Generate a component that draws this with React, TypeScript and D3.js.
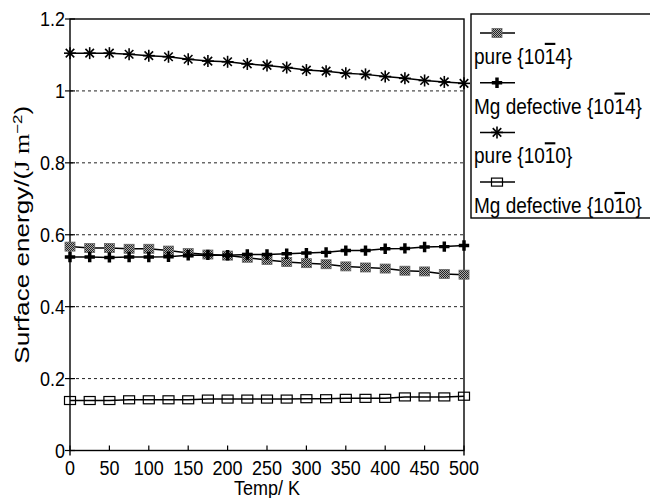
import React from "react";
import * as d3 from "d3";

const temps = [0, 25, 50, 75, 100, 125, 150, 175, 200, 225, 250, 275, 300, 325, 350, 375, 400, 425, 450, 475, 500];
const pure1014 = [0.567, 0.563, 0.563, 0.561, 0.561, 0.556, 0.549, 0.545, 0.542, 0.536, 0.530, 0.524, 0.521, 0.518, 0.512, 0.509, 0.506, 0.500, 0.498, 0.491, 0.489];
const mg1014 = [0.538, 0.538, 0.537, 0.538, 0.538, 0.539, 0.543, 0.544, 0.543, 0.545, 0.545, 0.547, 0.549, 0.551, 0.556, 0.556, 0.561, 0.562, 0.566, 0.567, 0.570];
const pure1010 = [1.105, 1.105, 1.105, 1.102, 1.098, 1.095, 1.088, 1.083, 1.081, 1.075, 1.071, 1.065, 1.058, 1.055, 1.049, 1.046, 1.040, 1.035, 1.029, 1.025, 1.021];
const mg1010 = [0.139, 0.139, 0.139, 0.141, 0.141, 0.141, 0.141, 0.143, 0.143, 0.143, 0.143, 0.143, 0.144, 0.144, 0.145, 0.145, 0.145, 0.149, 0.149, 0.149, 0.151];

const xTicks = [0, 50, 100, 150, 200, 250, 300, 350, 400, 450, 500];
const yTicks = [0, 0.2, 0.4, 0.6, 0.8, 1, 1.2];
const gridValues = [0.2, 0.4, 0.6, 0.8, 1];

// legend labels: prefix, barred digit, suffix
const seriesInfo = [
  { key: "pure1014", values: pure1014, pre: "pure {10", bar: "1", post: "4}" },
  { key: "mg1014", values: mg1014, pre: "Mg defective {10", bar: "1", post: "4}" },
  { key: "pure1010", values: pure1010, pre: "pure {10", bar: "1", post: "0}" },
  { key: "mg1010", values: mg1010, pre: "Mg defective {10", bar: "1", post: "0}" },
];

const font = "'Liberation Sans', Arial, sans-serif";
// scanned lettering is a bit taller than it is wide
const stretch = (tx: number, ty: number) => `translate(${tx},${ty}) scale(1,1.13)`;

const Marker = ({ kind, x, y }: { kind: string; x: number; y: number }) => {
  if (kind === "pure1014") {
    return <rect x={x - 5} y={y - 4.5} width={10} height={9} fill="url(#hatch)" stroke="#666" strokeWidth={0.8} />;
  }
  if (kind === "mg1014") {
    return <path d={d3.symbol(d3.symbolCross, 60)() as string} transform={`translate(${x},${y})`} fill="#000" />;
  }
  if (kind === "pure1010") {
    const r = 6;
    const a = r * Math.cos(Math.PI / 4);
    return (
      <g stroke="#000" strokeWidth={1.6}>
        <line x1={x} y1={y - r} x2={x} y2={y + r} />
        <line x1={x - a} y1={y - a} x2={x + a} y2={y + a} />
        <line x1={x - a} y1={y + a} x2={x + a} y2={y - a} />
        <line x1={x - r} y1={y} x2={x + r} y2={y} />
      </g>
    );
  }
  return <rect x={x - 5.5} y={y - 4} width={11} height={8} fill="none" stroke="#000" strokeWidth={1.2} />;
};

const App = () => {
  const width = 650;
  const height = 498;
  const x = d3.scaleLinear().domain([0, 500]).range([70, 464]);
  const y = d3.scaleLinear().domain([0, 1.2]).range([450.5, 19]);

  const line = d3
    .line<number>()
    .x((_, i) => x(temps[i]))
    .y((d) => y(d));

  return (
    <svg width={width} height={height} style={{ position: "absolute", left: 0, top: 0, background: "#fff" }} fontFamily={font}>
      <defs>
        <pattern id="hatch" width={2} height={2} patternUnits="userSpaceOnUse">
          <rect width={2} height={2} fill="#aaa" />
          <rect width={1} height={1} fill="#222" />
          <rect x={1} y={1} width={1} height={1} fill="#222" />
        </pattern>
      </defs>

      {/* dashed grid */}
      {gridValues.map((v) => (
        <line key={v} x1={x(0)} x2={x(500)} y1={y(v)} y2={y(v)} stroke="#222" strokeWidth={1} strokeDasharray="3,3" />
      ))}

      {/* frame */}
      <rect x={x(0)} y={y(1.2)} width={x(500) - x(0)} height={y(0) - y(1.2)} fill="none" stroke="#000" strokeWidth={1.4} />
      <line x1={x(0)} x2={x(0)} y1={y(0)} y2={y(0) + 5} stroke="#000" strokeWidth={1.4} />
      <line x1={x(500)} x2={x(500)} y1={y(0)} y2={y(0) + 5} stroke="#000" strokeWidth={1.4} />

      {/* y ticks */}
      {yTicks.map((v) => (
        <g key={v}>
          <line x1={x(0) - 5} x2={x(0) + 5} y1={y(v)} y2={y(v)} stroke="#000" strokeWidth={1.2} />
          <text transform={stretch(x(0) - 5, y(v))} dy="0.36em" textAnchor="end" fontSize={18}>
            {d3.format("~g")(v)}
          </text>
        </g>
      ))}

      {/* x ticks */}
      {xTicks.map((v) => (
        <g key={v}>
          <line x1={x(v)} x2={x(v)} y1={y(0)} y2={y(0) - 5} stroke="#000" strokeWidth={1.2} />
          <text transform={stretch(x(v), y(0) + 24)} textAnchor="middle" fontSize={18}>
            {v}
          </text>
        </g>
      ))}

      {/* axis titles */}
      <text transform={stretch(x(250), 495)} textAnchor="middle" fontSize={18}>
        Temp/ K
      </text>
      <text
        transform={`translate(29,${y(0.6)}) rotate(-90)`}
        textAnchor="middle"
        fontSize={20}
        textLength={258}
        lengthAdjust="spacingAndGlyphs"
      >
        Surface energy/(
        <tspan fontFamily="'Liberation Serif', 'Times New Roman', serif">J m</tspan>
        <tspan baselineShift="super" fontSize={13}>−2</tspan>)
      </text>

      {/* series */}
      {seriesInfo.map((s) => (
        <g key={s.key}>
          <path d={line(s.values) as string} fill="none" stroke="#000" strokeWidth={1.5} />
          {s.values.map((v, i) => (
            <Marker key={i} kind={s.key} x={x(temps[i])} y={y(v)} />
          ))}
        </g>
      ))}

      {/* legend */}
      <rect x={471} y={14} width={200} height={204} fill="#fff" stroke="#000" strokeWidth={1.4} />
      {seriesInfo.map((s, i) => {
        const sy = 33 + i * 49.7;
        return (
          <g key={s.key}>
            <line x1={480} x2={515} y1={sy} y2={sy} stroke="#000" strokeWidth={1.5} />
            <Marker kind={s.key} x={497} y={sy} />
            <text transform={stretch(474, sy + 31)} fontSize={19}>
              {s.pre}
              <tspan style={{ textDecoration: "overline" }}>{s.bar}</tspan>
              {s.post}
            </text>
          </g>
        );
      })}
    </svg>
  );
};

export default App;
